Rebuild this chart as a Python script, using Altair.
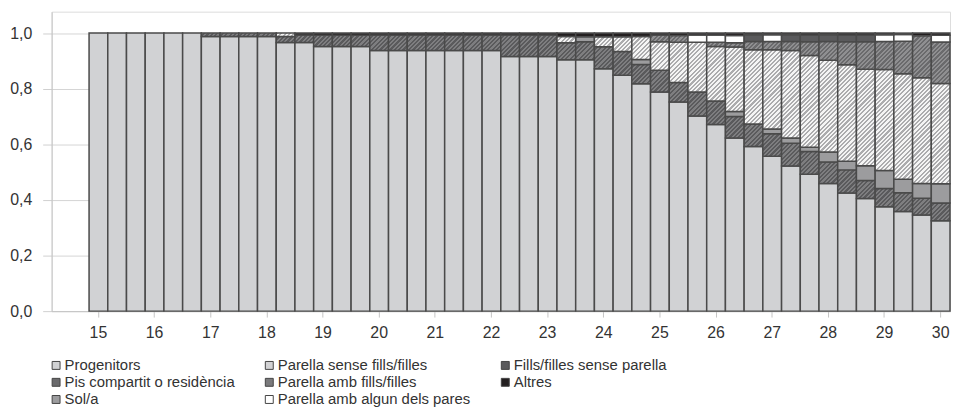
import json
import altair as alt

# ---------------- data ----------------
AGE_LABELS = ["15", "16", "17", "18", "19", "20", "21", "22", "23",
              "24", "25", "26", "27", "28", "29", "30"]

CATEGORIES = [
    "Progenitors",
    "Pis compartit o residència",
    "Sol/a",
    "Parella sense fills/filles",
    "Parella amb fills/filles",
    "Parella amb algun dels pares",
    "Fills/filles sense parella",
    "Altres",
]

PROGENITORS = [1.000, 1.000, 1.000, 1.000, 1.000, 1.000,
               0.988, 0.988, 0.988, 0.988, 0.966, 0.966,
               0.952, 0.952, 0.952, 0.937, 0.937, 0.937,
               0.937, 0.937, 0.937, 0.937, 0.916, 0.916,
               0.916, 0.904, 0.904, 0.872, 0.848, 0.818,
               0.788, 0.752, 0.702, 0.671, 0.623, 0.592,
               0.557, 0.522, 0.492, 0.459, 0.425, 0.405,
               0.375, 0.358, 0.346, 0.325]
PIS_COMPARTIT = [0.000, 0.000, 0.000, 0.000, 0.000, 0.000,
                 0.012, 0.012, 0.012, 0.012, 0.022, 0.027,
                 0.040, 0.040, 0.040, 0.056, 0.056, 0.056,
                 0.056, 0.056, 0.056, 0.056, 0.077, 0.077,
                 0.077, 0.061, 0.065, 0.079, 0.086, 0.069,
                 0.078, 0.070, 0.086, 0.085, 0.077, 0.081,
                 0.081, 0.082, 0.082, 0.077, 0.083, 0.065,
                 0.066, 0.068, 0.060, 0.064]
SOLA = [0.000, 0.000, 0.000, 0.000, 0.000, 0.000,
        0.000, 0.000, 0.000, 0.000, 0.000, 0.000,
        0.000, 0.000, 0.000, 0.000, 0.000, 0.000,
        0.000, 0.000, 0.000, 0.000, 0.000, 0.000,
        0.000, 0.000, 0.018, 0.000, 0.000, 0.018,
        0.000, 0.000, 0.000, 0.000, 0.018, 0.000,
        0.017, 0.019, 0.015, 0.036, 0.031, 0.053,
        0.065, 0.048, 0.053, 0.069]
PARELLA_SENSE = [0.000, 0.000, 0.000, 0.000, 0.000, 0.000,
                 0.000, 0.000, 0.000, 0.000, 0.012, 0.000,
                 0.000, 0.000, 0.000, 0.000, 0.000, 0.000,
                 0.000, 0.000, 0.000, 0.000, 0.000, 0.000,
                 0.000, 0.023, 0.000, 0.036, 0.053, 0.083,
                 0.103, 0.145, 0.179, 0.196, 0.232, 0.267,
                 0.285, 0.314, 0.330, 0.330, 0.347, 0.347,
                 0.363, 0.380, 0.380, 0.361]
PARELLA_AMB = [0.000, 0.000, 0.000, 0.000, 0.000, 0.000,
               0.000, 0.000, 0.000, 0.000, 0.000, 0.000,
               0.000, 0.000, 0.000, 0.000, 0.000, 0.000,
               0.000, 0.000, 0.000, 0.000, 0.000, 0.000,
               0.000, 0.000, 0.000, 0.000, 0.000, 0.000,
               0.024, 0.024, 0.000, 0.015, 0.015, 0.030,
               0.030, 0.033, 0.050, 0.068, 0.083, 0.099,
               0.101, 0.117, 0.151, 0.149]
AMB_PARES = [0.000, 0.000, 0.000, 0.000, 0.000, 0.000,
             0.000, 0.000, 0.000, 0.000, 0.000, 0.000,
             0.000, 0.000, 0.000, 0.000, 0.000, 0.000,
             0.000, 0.000, 0.000, 0.000, 0.000, 0.000,
             0.000, 0.000, 0.000, 0.000, 0.000, 0.000,
             0.000, 0.000, 0.026, 0.026, 0.026, 0.000,
             0.024, 0.000, 0.000, 0.000, 0.000, 0.000,
             0.024, 0.024, 0.000, 0.024]
FILLS_SENSE = [0.000, 0.000, 0.000, 0.000, 0.000, 0.000,
               0.000, 0.000, 0.000, 0.000, 0.000, 0.000,
               0.000, 0.000, 0.000, 0.000, 0.000, 0.000,
               0.000, 0.000, 0.000, 0.000, 0.000, 0.000,
               0.000, 0.000, 0.000, 0.000, 0.000, 0.000,
               0.000, 0.000, 0.000, 0.000, 0.000, 0.024,
               0.000, 0.024, 0.024, 0.024, 0.024, 0.024,
               0.000, 0.000, 0.000, 0.000]
ALTRES = [0.000, 0.000, 0.000, 0.000, 0.000, 0.000,
          0.000, 0.000, 0.000, 0.000, 0.000, 0.007,
          0.008, 0.008, 0.008, 0.007, 0.007, 0.007,
          0.007, 0.007, 0.007, 0.007, 0.007, 0.007,
          0.007, 0.012, 0.013, 0.013, 0.013, 0.012,
          0.007, 0.009, 0.007, 0.007, 0.009, 0.006,
          0.006, 0.006, 0.007, 0.006, 0.007, 0.007,
          0.006, 0.005, 0.010, 0.008]

SERIES = [PROGENITORS, PIS_COMPARTIT, SOLA, PARELLA_SENSE,
          PARELLA_AMB, AMB_PARES, FILLS_SENSE, ALTRES]

# ---------------- styling ----------------
W, H = 906, 302
YMAX = 1.077
N_BARS = len(PROGENITORS)
STEP = W / (N_BARS + 2)
PX_PER_UNIT = H / YMAX

SOLID = {
    "Progenitors": "#d1d2d4",
    "Sol/a": "#9c9c9e",
    "Parella amb algun dels pares": "#ffffff",
    "Fills/filles sense parella": "#5a5a5c",
    "Altres": "#231f20",
}
HATCH = {  # (base, stripe)
    "Pis compartit o residència": ("#5a5a5c", "#7e7e80"),
    "Parella sense fills/filles": ("#f5f5f5", "#acacae"),
    "Parella amb fills/filles": ("#6a6a6c", "#8f8f91"),
}
LEGEND_SWATCH = {
    "Pis compartit o residència": "#6a6a6c",
    "Parella sense fills/filles": "#d2d2d4",
    "Parella amb fills/filles": "#7a7a7c",
}


def hatch(h_px, base, stripe, frac=0.5, period=4.4):
    """Diagonal '/' stripes as a hard-stop linear gradient in bbox units."""
    w = STEP
    L = w + h_px
    k = L / (w * w + h_px * h_px)
    n = L / period
    stops = []
    j = 0
    while j < n:
        a = min(j / n, 1.0)
        b = min((j + frac) / n, 1.0)
        c = min((j + 1) / n, 1.0)
        stops += [{"offset": a, "color": stripe}, {"offset": b, "color": stripe},
                  {"offset": b, "color": base}, {"offset": c, "color": base}]
        j += 1
    return {"gradient": "linear", "x1": 0, "y1": 0,
            "x2": w * k, "y2": h_px * k, "stops": stops}


rows = []
for k, (cat, vals) in enumerate(zip(CATEGORIES, SERIES)):
    for i, v in enumerate(vals):
        if v <= 0:
            continue
        if cat in SOLID:
            fill = SOLID[cat]
        else:
            fill = hatch(v * PX_PER_UNIT, *HATCH[cat])
        rows.append({"i": i, "cat": cat, "k": k, "v": v, "fill": fill})

legend_colors = [SOLID.get(c, LEGEND_SWATCH.get(c)) for c in CATEGORIES]

label_expr = json.dumps(AGE_LABELS) + "[datum.value / 3]"

bars = alt.Chart(alt.Data(values=rows)).mark_bar(
    stroke="#4a4a4a", strokeWidth=1.5
).encode(
    x=alt.X("i:O",
            scale=alt.Scale(paddingInner=0, paddingOuter=1, align=1),
            axis=alt.Axis(values=list(range(0, N_BARS, 3)), labelExpr=label_expr,
                          title=None, labelAngle=0, tickSize=6, labelPadding=8,
                          domainColor="#c4c4c4", tickColor="#c4c4c4",
                          labelFontSize=16, labelColor="#333333", grid=False)),
    y=alt.Y("v:Q", stack="zero",
            scale=alt.Scale(domain=[0, YMAX], nice=False),
            axis=alt.Axis(values=[0, 0.2, 0.4, 0.6, 0.8, 1.0],
                          labelExpr="replace(format(datum.value, '.1f'), '.', ',')",
                          title=None, tickSize=9, labelPadding=11,
                          domainColor="#c4c4c4", tickColor="#cfcfcf",
                          gridColor="#d4d4d4", grid=True,
                          labelFontSize=16, labelColor="#333333")),
    fill=alt.Fill("fill:N", scale=None),
    order=alt.Order("k:Q", sort="ascending"),
)

legend_layer = alt.Chart(alt.Data(values=[{"cat": c} for c in CATEGORIES])).transform_filter(
    "false"
).mark_square(opacity=1, stroke="#444444", strokeWidth=1).encode(
    color=alt.Color("cat:N",
                    scale=alt.Scale(domain=CATEGORIES, range=legend_colors),
                    legend=alt.Legend(title=None, orient="none", legendX=-3, legendY=349,
                                      columns=3, symbolType="square", symbolSize=64,
                                      symbolStrokeColor="#444444", symbolStrokeWidth=1,
                                      labelFontSize=15, labelColor="#333333",
                                      labelOffset=1, columnPadding=27, rowPadding=1.3,
                                      padding=0, labelLimit=400))
)

chart = alt.layer(bars, legend_layer).properties(
    width=W, height=H,
    autosize=alt.AutoSizeParams(type="none"),
    padding={"left": 44, "top": 2, "right": 2, "bottom": 97},
).configure_view(stroke=None).configure(font="Liberation Sans")

chart.save("out.html", embed_options={"renderer": "svg", "actions": False})
